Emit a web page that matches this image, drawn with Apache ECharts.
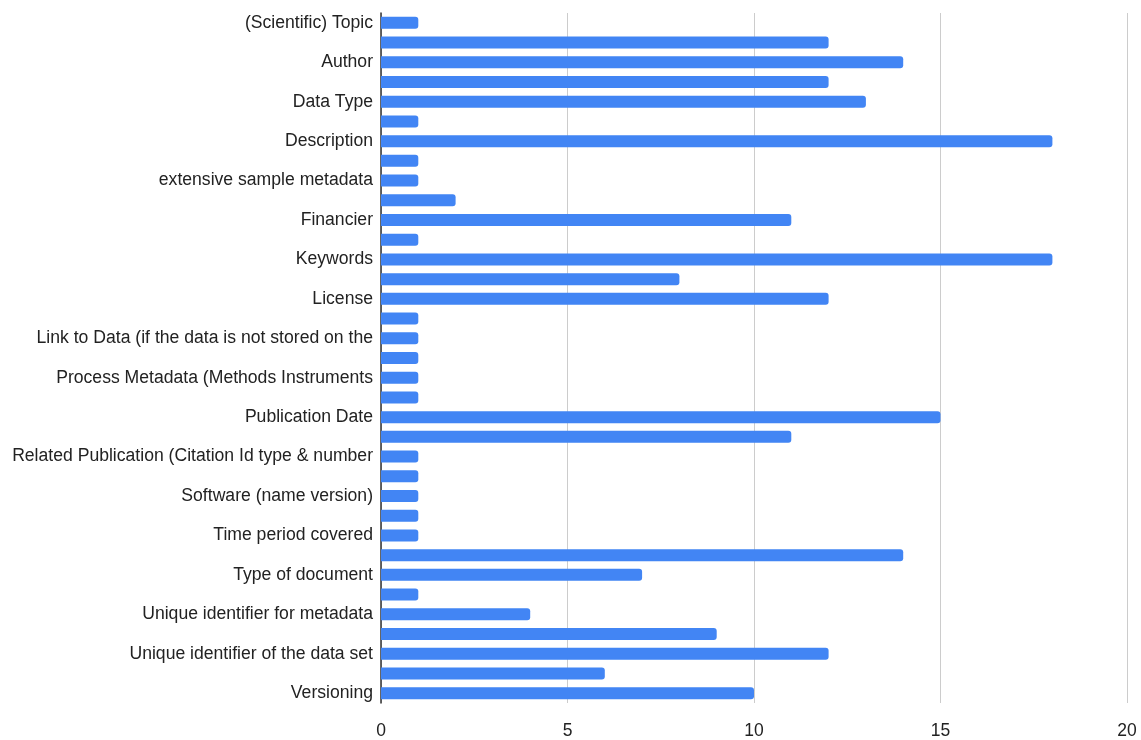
<!DOCTYPE html>
<html>
<head>
<meta charset="utf-8">
<script src="https://cdn.jsdelivr.net/npm/echarts@6/dist/echarts.min.js"></script>
<style>html,body{margin:0;padding:0;background:#fff}#c{width:1141px;height:740px}</style>
</head>
<body>
<div id="c"></div>
<script>
// Categories top to bottom; odd rows have hidden labels in the reference
const categories = [
  "(Scientific) Topic", "", "Author", " ", "Data Type", "  ", "Description", "   ",
  "extensive sample metadata", "    ", "Financier", "     ", "Keywords", "      ",
  "License", "       ", "Link to Data (if the data is not stored on the", "        ",
  "Process Metadata (Methods Instruments", "         ", "Publication Date", "          ",
  "Related Publication (Citation Id type & number", "           ",
  "Software (name version)", "            ", "Time period covered", "             ",
  "Type of document", "              ", "Unique identifier for metadata", "               ",
  "Unique identifier of the data set", "                ", "Versioning"
];
const values = [
  1, 12, 14, 12, 13, 1, 18, 1, 1, 2, 11, 1, 18, 8, 12, 1, 1, 1, 1, 1,
  15, 11, 1, 1, 1, 1, 1, 14, 7, 1, 4, 9, 12, 6, 10
];
const xTicks = [0, 5, 10, 15, 20];

const chart = echarts.init(document.getElementById('c'));
chart.setOption({
  animation: false,
  grid: { left: 381, right: 14, top: 13, bottom: 37, containLabel: false },
  xAxis: {
    type: 'value', min: xTicks[0], max: xTicks[xTicks.length - 1], interval: 5,
    axisLine: { show: false }, axisTick: { show: false },
    splitLine: { show: true, lineStyle: { color: '#cccccc', width: 1 } },
    axisLabel: { color: '#222', fontSize: 17.5, fontFamily: 'Liberation Sans, Arial, sans-serif', margin: 19 }
  },
  yAxis: {
    type: 'category', data: categories, inverse: true,
    axisLine: { show: true, lineStyle: { color: '#333', width: 1.5 } },
    axisTick: { show: false },
    axisLabel: { interval: 1, color: '#222', fontSize: 17.6, fontFamily: 'Liberation Sans, Arial, sans-serif', margin: 8 }
  },
  series: [{
    type: 'bar', data: values, barCategoryGap: '39%',
    itemStyle: { color: '#4285F4', borderRadius: [0, 3, 3, 0] }
  }]
});
</script>
</body>
</html>
